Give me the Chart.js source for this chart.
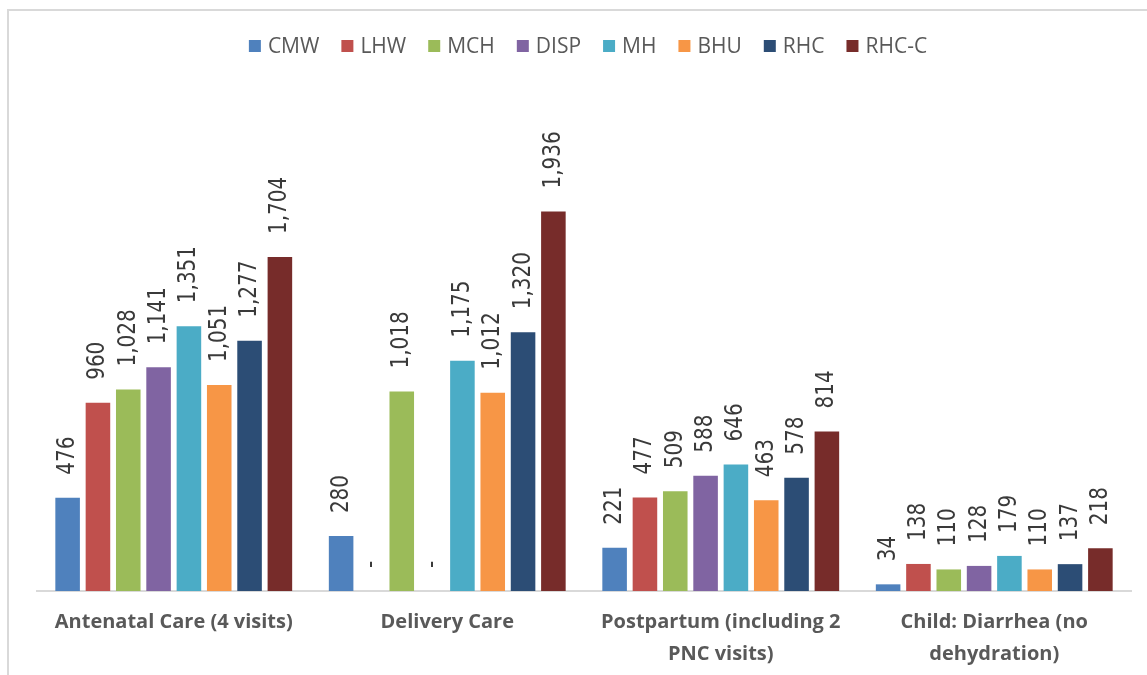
<!DOCTYPE html>
<html>
<head>
<meta charset="utf-8">
<script src="https://cdn.jsdelivr.net/npm/chart.js@4.4.1/dist/chart.umd.min.js"></script>
<style>
  html, body { margin: 0; padding: 0; background: #ffffff; }
  #wrap { position: relative; width: 1147px; height: 675px; overflow: hidden; }
  #frame { position: absolute; left: 7px; top: 9px; width: 1200px; height: 700px;
           border-top: 2px solid #d9d9d9; border-left: 2px solid #d9d9d9; }
  #c { position: absolute; left: 0; top: 0; }
</style>
</head>
<body>
<div id="wrap">
  <div id="frame"></div>
  <canvas id="c" width="1147" height="675"></canvas>
</div>
<script>
// Service categories (multi-line where the axis label wraps)
const categories = [
  "Antenatal Care (4 visits)",
  "Delivery Care",
  ["Postpartum (including 2", "PNC visits)"],
  ["Child: Diarrhea (no", "dehydration)"]
];

// Facility types
const seriesNames = ["CMW", "LHW", "MCH", "DISP", "MH", "BHU", "RHC", "RHC-C"];

// Values per facility type, one per category
const CMW  = [476, 280, 221, 34];
const LHW  = [960, 0, 477, 138];
const MCH  = [1028, 1018, 509, 110];
const DISP = [1141, 0, 588, 128];
const MH   = [1351, 1175, 646, 179];
const BHU  = [1051, 1012, 463, 110];
const RHC  = [1277, 1320, 578, 137];
const RHCC = [1704, 1936, 814, 218];

const seriesValues = [CMW, LHW, MCH, DISP, MH, BHU, RHC, RHCC];
const seriesColors = ["#4F81BD", "#C0504D", "#9BBB59", "#8064A2",
                      "#4BACC6", "#F79646", "#2C4D75", "#772C2A"];

const LABEL_FONT = '"Open Sans", "Noto Sans", sans-serif';

// Rotated value labels above each bar ("-" for zero)
const valueLabels = {
  id: 'valueLabels',
  afterDatasetsDraw(chart) {
    const ctx = chart.ctx;
    chart.data.datasets.forEach((ds, i) => {
      const meta = chart.getDatasetMeta(i);
      meta.data.forEach((bar, j) => {
        const v = ds.data[j];
        const txt = v === 0 ? '-' : v.toLocaleString('en-US');
        ctx.save();
        ctx.translate(bar.x, bar.y - 23);
        ctx.rotate(-Math.PI / 2);
        ctx.scale(1, 1.25);
        ctx.font = '20px "DejaVu Sans", sans-serif';
        ctx.fillStyle = '#3a3a3a';
        ctx.textAlign = 'left';
        ctx.textBaseline = 'middle';
        ctx.fillText(txt, 0, 0);
        ctx.restore();
      });
    });
  }
};

// Single-row legend centred above the plot
const topLegend = {
  id: 'topLegend',
  afterDraw(chart) {
    const ctx = chart.ctx;
    const box = 12, gapText = 7, gapItem = 22, y = 46;
    ctx.save();
    ctx.font = '21px ' + LABEL_FONT;
    ctx.textBaseline = 'middle';
    ctx.textAlign = 'left';
    const items = chart.data.datasets.map(ds => ({
      label: ds.label, color: ds.backgroundColor, w: ctx.measureText(ds.label).width
    }));
    let total = 0;
    items.forEach((it, k) => { total += box + gapText + it.w + (k < items.length - 1 ? gapItem : 0); });
    let x = 588 - total / 2;
    items.forEach(it => {
      ctx.fillStyle = it.color;
      ctx.fillRect(x, y - box / 2, box, box);
      ctx.fillStyle = '#595959';
      ctx.fillText(it.label, x + box + gapText, y + 1);
      x += box + gapText + it.w + gapItem;
    });
    ctx.restore();
  }
};

const datasets = seriesNames.map((name, i) => ({
  label: name,
  data: seriesValues[i],
  backgroundColor: seriesColors[i],
  borderWidth: 0,
  barPercentage: 0.81,
  categoryPercentage: 0.887
}));

new Chart(document.getElementById('c'), {
  type: 'bar',
  data: { labels: categories, datasets },
  options: {
    responsive: false,
    animation: false,
    devicePixelRatio: 1,
    layout: { padding: { left: 37, right: 16, top: 101, bottom: 0 } },
    plugins: { legend: { display: false }, tooltip: { enabled: false } },
    scales: {
      x: {
        grid: { display: false, drawTicks: false },
        border: { display: true, color: '#d9d9d9', width: 2 },
        ticks: {
          color: '#595959',
          font: { family: LABEL_FONT, size: 20, weight: 'bold', lineHeight: 1.6 },
          padding: 15,
          maxRotation: 0,
          autoSkip: false
        },
        afterFit(scale) { scale.height = 84; }
      },
      y: {
        display: false,
        min: 0,
        max: 2500
      }
    }
  },
  plugins: [valueLabels, topLegend]
});
</script>
</body>
</html>
